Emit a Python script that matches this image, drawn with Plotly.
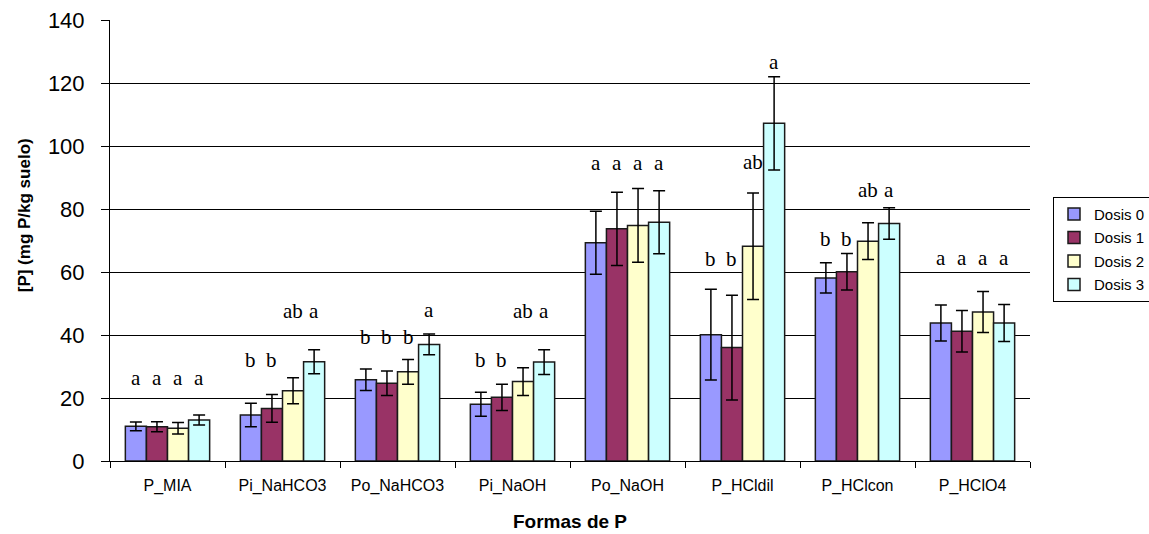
import plotly.graph_objects as go

categories = ["P_MIA", "Pi_NaHCO3", "Po_NaHCO3", "Pi_NaOH", "Po_NaOH", "P_HCldil", "P_HClcon", "P_HClO4"]
series_names = ["Dosis 0", "Dosis 1", "Dosis 2", "Dosis 3"]

dosis0 = [11.0, 14.6, 25.8, 18.0, 69.3, 40.1, 58.1, 43.8]
dosis1 = [10.9, 16.7, 24.7, 20.2, 73.7, 36.0, 60.1, 41.2]
dosis2 = [10.4, 22.3, 28.3, 25.2, 74.8, 68.2, 69.8, 47.3]
dosis3 = [13.0, 31.5, 37.0, 31.4, 75.8, 107.2, 75.4, 43.8]

err0 = [1.4, 3.7, 3.4, 3.8, 10.0, 14.4, 4.8, 5.7]
err1 = [1.6, 4.4, 3.9, 4.2, 11.6, 16.6, 5.8, 6.6]
err2 = [1.8, 4.1, 3.9, 4.4, 11.7, 16.9, 5.8, 6.5]
err3 = [1.6, 3.8, 3.3, 3.9, 10.0, 14.8, 5.0, 5.9]

# significance letters per series and their heights (data units)
letters0 = ["a", "b", "b", "b", "a", "b", "b", "a"]
letters1 = ["a", "b", "b", "b", "a", "b", "b", "a"]
letters2 = ["a", "ab", "b", "ab", "a", "ab", "ab", "a"]
letters3 = ["a", "a", "a", "a", "a", "a", "a", "a"]
letter_y0 = [26.3, 32.0, 39.5, 32.0, 94.6, 64.0, 70.6, 64.5]
letter_y1 = [26.3, 32.0, 39.5, 32.0, 94.6, 64.0, 70.6, 64.5]
letter_y2 = [26.3, 47.6, 39.5, 47.5, 94.6, 94.8, 86.1, 64.5]
letter_y3 = [26.3, 47.6, 47.9, 47.5, 94.6, 126.8, 86.1, 64.5]

y_ticks = [0, 20, 40, 60, 80, 100, 120, 140]

colors = ["#9999FF", "#993366", "#FFFFCC", "#CCFFFF"]
values = [dosis0, dosis1, dosis2, dosis3]
errors = [err0, err1, err2, err3]
letters = [letters0, letters1, letters2, letters3]
letter_ys = [letter_y0, letter_y1, letter_y2, letter_y3]

bargap = 0.267

fig = go.Figure()
for k in range(4):
    fig.add_trace(go.Bar(
        x=categories, y=values[k], name=series_names[k],
        marker=dict(color=colors[k], line=dict(color="#1a1a1a", width=1.5)),
        error_y=dict(type="data", array=errors[k], visible=True,
                     color="#000000", thickness=1.5, width=6),
        legendgroup=series_names[k],
    ))

bw = (1 - bargap) / 4
annotations = []
for k in range(4):
    for i in range(len(categories)):
        if letters[k][i]:
            annotations.append(dict(
                x=i + (k - 1.5) * bw, y=letter_ys[k][i], xref="x", yref="y",
                text=letters[k][i], showarrow=False, yanchor="middle",
                font=dict(family="Liberation Serif", size=21, color="#000000"),
            ))

annotations.append(dict(
    x=-0.092, y=0.558, xref="paper", yref="paper", xanchor="center", yanchor="middle",
    text="<b>[P] (mg P/kg suelo)</b>", showarrow=False, textangle=-90,
    font=dict(family="Liberation Sans", size=17, color="#000000"),
))
annotations.append(dict(
    x=0.5, y=-0.138, xref="paper", yref="paper", yanchor="middle",
    text="<b>Formas de P</b>", showarrow=False,
    font=dict(family="Liberation Sans", size=19, color="#000000"),
))

fig.update_layout(
    width=1149, height=534,
    margin=dict(l=110, r=119, t=20, b=73, autoexpand=False),
    paper_bgcolor="white", plot_bgcolor="white",
    barmode="group", bargap=bargap, bargroupgap=0,
    showlegend=True,
    legend=dict(x=1053 / 1149, y=0.599, xref="container", yref="paper",
                xanchor="left", yanchor="top",
                bordercolor="#000000", borderwidth=1,
                font=dict(family="Liberation Sans", size=15, color="#000000"),
                tracegroupgap=1, bgcolor="white"),
    annotations=annotations,
    font=dict(family="Liberation Sans", color="#000000"),
)
fig.update_xaxes(
    type="category", showline=True, linecolor="#000000", linewidth=1,
    ticks="outside", tickson="boundaries", ticklen=6, tickcolor="#000000",
    ticklabelstandoff=10,
    tickfont=dict(family="Liberation Sans", size=16, color="#000000"),
    showgrid=False,
)
fig.update_yaxes(
    range=[0, 140], tickvals=y_ticks, showline=True, linecolor="#000000", linewidth=1,
    ticks="outside", ticklen=8, tickcolor="#000000", ticklabelstandoff=12,
    tickfont=dict(family="Liberation Sans", size=22, color="#000000"),
    showgrid=True, gridcolor="#000000", gridwidth=1, zeroline=False,
)

fig.write_html("out.html")
